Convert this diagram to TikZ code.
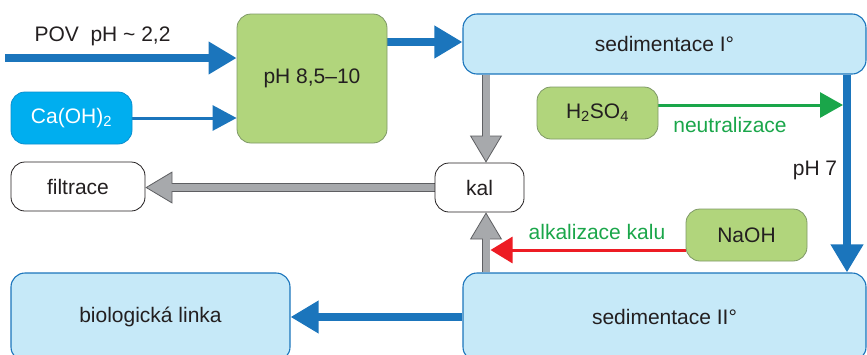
\documentclass[tikz,border=0pt]{standalone}
\usepackage{fontspec}
\setmainfont{Liberation Sans}
\usetikzlibrary{arrows.meta,backgrounds,calc}

\definecolor{ink}{HTML}{231F20}
\definecolor{flowblue}{HTML}{1B75BC}
\definecolor{tankfill}{HTML}{C6E9F8}
\definecolor{limefill}{HTML}{B1D57C}
\definecolor{limeedge}{HTML}{7E9866}
\definecolor{limecyan}{HTML}{00AEEF}
\definecolor{cyanedge}{HTML}{0A8FCF}
\definecolor{sludge}{HTML}{A7A9AC}
\definecolor{sludgeedge}{HTML}{5E5F62}
\definecolor{alkred}{HTML}{ED1C24}
\definecolor{acidgreen}{HTML}{1AA64A}

\begin{document}
\begin{tikzpicture}[x=1pt,y=-1pt,
  font=\fontsize{21}{25}\selectfont,
  every node/.style={text=ink},
  procbox/.style={rounded corners=14pt, inner sep=0pt, draw=#1, line width=0.8pt},
  tank/.style={procbox=flowblue, fill=tankfill, line width=1.1pt},
  reagent/.style={procbox=limeedge, fill=limefill},
  plainbox/.style={procbox=ink, fill=white},
  bluefat/.style={line width=8pt, flowblue, -{Triangle[length=28pt,width=31pt]}},
  bluethin/.style={line width=3pt, flowblue, -{Triangle[length=24pt,width=25pt]}},
  greenarr/.style={line width=3pt, acidgreen, -{Triangle[length=23pt,width=25pt]}},
  redarr/.style={line width=3pt, alkred, -{Triangle[length=22pt,width=26pt]}},
  grayout/.style={line width=8.6pt, sludgeedge, -{Triangle[length=27pt,width=32pt,line width=0.8pt,fill=sludge]}},
  grayin/.style={line width=7pt, sludge, shorten >=26pt}
]
\useasboundingbox (0,0) rectangle (867,354);
\clip (0,0) rectangle (867,354);

% process boxes
\node[reagent, minimum width=150pt, minimum height=129pt] (mix) at (312,78.5) {pH 8,5–10};
\node[procbox=cyanedge, fill=limecyan, minimum width=121pt, minimum height=52pt, text=white] (caoh) at (71.5,118) {Ca(OH)\textsubscript{2}};
\node[tank, minimum width=403pt, minimum height=60pt] (sed1) at (664.5,44) {sedimentace I°};
\node[tank, minimum width=403pt, minimum height=88pt] (sed2) at (664.5,317) {sedimentace II°};
\node[tank, minimum width=279pt, minimum height=88pt] (bio) at (150.5,317) {biologická linka};
\node[plainbox, minimum width=134pt, minimum height=49pt] (filt) at (78,186.5) {filtrace};
\node[plainbox, minimum width=89pt, minimum height=49pt] (kal) at (479.5,187.5) {kal};
\node[reagent, minimum width=121pt, minimum height=52pt] (acid) at (597.5,113) {H\textsubscript{2}SO\textsubscript{4}};
\node[reagent, minimum width=121pt, minimum height=52pt] (naoh) at (746.5,235) {NaOH};

% labels
\node (povlbl) at (102.5,36) {POV\ \ pH \textasciitilde\ 2,2};
\node (ph7) at (815,170) {pH 7};
\node[text=acidgreen] (neutr) at (730,125) {neutralizace};
\node[text=acidgreen] (alkal) at (597,232) {alkalizace kalu};

% helper points
\coordinate (povin) at (5,58);
\coordinate (kx) at (486,0);
\coordinate (bx) at (847,0);
\coordinate (gy) at (0,105);
\coordinate (gend) at (843,105);
\coordinate (ry) at (0,250);
\coordinate (rend) at (490.5,250);

\begin{scope}[on background layer]
  % main water flow
  \draw[bluefat] (povin) -- (povin -| mix.west);
  \draw[bluethin] (caoh.east) -- (caoh.east -| mix.west);
  \draw[bluefat] (mix.east |- 0,42) -- (sed1.west |- 0,42);
  \draw[bluefat] (sed1.south -| bx) -- (sed2.north -| bx);
  \draw[bluefat] (sed2.west) -- (bio.east);
  % sludge lines
  \draw[grayout] (sed1.south -| kx) -- (kal.north -| kx);
  \draw[grayin]  (sed1.south -| kx) -- (kal.north -| kx);
  \draw[grayout] (sed2.north -| kx) -- (kal.south -| kx);
  \draw[grayin]  (sed2.north -| kx) -- (kal.south -| kx);
  \draw[grayout] (kal.west) -- (kal.west -| filt.east);
  \draw[grayin]  (kal.west) -- (kal.west -| filt.east);
  % dosing
  \draw[greenarr] (acid.east |- gy) -- (gend);
  \draw[redarr] (naoh.west |- ry) -- (rend);
\end{scope}
\end{tikzpicture}
\end{document}
